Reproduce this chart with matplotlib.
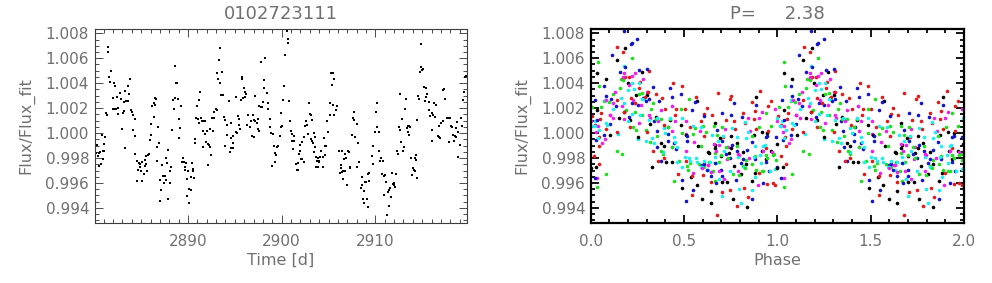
import matplotlib.pyplot as plt
import numpy as np
from matplotlib.ticker import MultipleLocator, FixedLocator

# light curve
star_id = '0102723111'
period = 2.38
t_zero = 2878.70

time = [
    2880.07, 2880.21, 2880.29, 2880.36, 2880.46, 2880.53, 2880.64, 2880.68, 2880.78, 2880.89,
    2880.93, 2881.00, 2881.07, 2881.18, 2881.21, 2881.32, 2881.42, 2881.49, 2881.57, 2881.71,
    2881.82, 2881.99, 2882.03, 2882.13, 2882.17, 2882.24, 2882.28, 2882.42, 2882.53, 2882.56,
    2882.70, 2882.85, 2882.92, 2883.02, 2883.13, 2883.17, 2883.24, 2883.31, 2883.38, 2883.56,
    2883.63, 2883.74, 2883.84, 2883.91, 2884.02, 2884.12, 2884.16, 2884.31, 2884.35, 2884.38,
    2884.52, 2884.59, 2884.70, 2884.73, 2884.84, 2884.91, 2885.02, 2885.05, 2885.09, 2885.27,
    2885.40, 2885.44, 2885.52, 2885.55, 2885.66, 2885.69, 2885.80, 2885.91, 2886.01, 2886.08,
    2886.16, 2886.33, 2886.37, 2886.44, 2886.51, 2886.58, 2886.69, 2886.73,
    # 2886.8 - 2893.5
    2886.83, 2886.90, 2887.01, 2887.05, 2887.15, 2887.26, 2887.37, 2887.44, 2887.51, 2887.62,
    2887.69, 2887.76, 2887.83, 2887.90, 2888.04, 2888.11, 2888.22, 2888.33, 2888.40, 2888.51,
    2888.61, 2888.65, 2888.75, 2888.83, 2888.90, 2889.00, 2889.07, 2889.15, 2889.25, 2889.32,
    2889.47, 2889.57, 2889.64, 2889.72, 2889.82, 2889.86, 2889.89, 2890.00, 2890.11, 2890.14,
    2890.28, 2890.32, 2890.39, 2890.50, 2890.57, 2890.68, 2890.75, 2890.78, 2890.89, 2891.00,
    2891.03, 2891.14, 2891.21, 2891.32, 2891.35, 2891.46, 2891.64, 2891.64, 2891.67, 2891.81,
    2891.81, 2891.92, 2891.99, 2892.10, 2892.17, 2892.24, 2892.31, 2892.35, 2892.49, 2892.60,
    2892.63, 2892.74, 2892.78, 2892.95, 2893.06, 2893.06, 2893.17, 2893.31, 2893.42, 2893.45,
    # 2893.5 - 2900.2
    2893.56, 2893.63, 2893.70, 2893.81, 2893.91, 2893.99, 2894.13, 2894.20, 2894.34, 2894.48,
    2894.56, 2894.56, 2894.63, 2894.77, 2894.77, 2894.84, 2895.09, 2895.16, 2895.23, 2895.37,
    2895.41, 2895.48, 2895.55, 2895.69, 2895.77, 2895.80, 2895.87, 2895.98, 2896.05, 2896.09,
    2896.19, 2896.30, 2896.44, 2896.62, 2896.76, 2896.80, 2896.90, 2897.05, 2897.08, 2897.15,
    2897.19, 2897.33, 2897.44, 2897.47, 2897.62, 2897.62, 2897.76, 2897.83, 2897.87, 2897.97,
    2898.11, 2898.15, 2898.26, 2898.40, 2898.51, 2898.54, 2898.72, 2898.75, 2898.90, 2898.97,
    2899.04, 2899.15, 2899.25, 2899.32, 2899.40, 2899.47, 2899.61, 2899.79, 2899.89, 2899.97,
    2900.04, 2900.18,
    # 2900.2 - 2906.9
    2900.29, 2900.39, 2900.55, 2900.64, 2900.71, 2900.82, 2900.93, 2900.96, 2901.10, 2901.10,
    2901.21, 2901.35, 2901.35, 2901.57, 2901.60, 2901.71, 2901.78, 2901.85, 2901.92, 2901.99,
    2902.06, 2902.17, 2902.21, 2902.35, 2902.35, 2902.53, 2902.56, 2902.71, 2902.85, 2902.92,
    2903.03, 2903.10, 2903.13, 2903.20, 2903.24, 2903.31, 2903.42, 2903.45, 2903.56, 2903.60,
    2903.67, 2903.70, 2903.77, 2903.84, 2903.91, 2903.95, 2904.02, 2904.09, 2904.20, 2904.38,
    2904.45, 2904.48, 2904.59, 2904.66, 2904.70, 2904.88, 2904.95, 2905.12, 2905.16, 2905.30,
    2905.37, 2905.44, 2905.52, 2905.55, 2905.62, 2905.77, 2905.91, 2906.09, 2906.19, 2906.30,
    2906.37, 2906.41, 2906.48, 2906.51, 2906.58, 2906.62, 2906.76, 2906.76, 2906.90,
    # 2907 - 2913.7
    2907.01, 2907.08, 2907.19, 2907.26, 2907.33, 2907.51, 2907.62, 2907.69, 2907.76, 2907.86,
    2908.01, 2908.04, 2908.15, 2908.22, 2908.29, 2908.43, 2908.54, 2908.61, 2908.68, 2908.79,
    2908.79, 2908.93, 2909.00, 2909.07, 2909.18, 2909.25, 2909.32, 2909.36, 2909.68, 2909.75,
    2909.75, 2909.97, 2910.07, 2910.14, 2910.21, 2910.36, 2910.43, 2910.50, 2910.57, 2910.75,
    2910.85, 2910.93, 2910.93, 2911.07, 2911.17, 2911.25, 2911.32, 2911.42, 2911.50, 2911.60,
    2911.64, 2911.78, 2911.89, 2911.96, 2911.99, 2912.10, 2912.21, 2912.35, 2912.42, 2912.56,
    2912.60, 2912.63, 2912.78, 2912.85, 2912.92, 2913.06, 2913.17, 2913.27, 2913.35, 2913.45,
    2913.49, 2913.59, 2913.63, 2913.70,
    # 2913.7 - end
    2913.77, 2913.91, 2913.99, 2914.13, 2914.20, 2914.27, 2914.34, 2914.38, 2914.45, 2914.48,
    2914.59, 2914.66, 2914.77, 2914.84, 2914.91, 2915.02, 2915.12, 2915.20, 2915.27, 2915.41,
    2915.44, 2915.55, 2915.69, 2915.73, 2915.84, 2916.01, 2916.08, 2916.08, 2916.19, 2916.23,
    2916.33, 2916.51, 2916.65, 2916.76, 2916.83, 2916.87, 2916.97, 2917.26, 2917.26, 2917.33,
    2917.44, 2917.62, 2917.79, 2917.86, 2917.94, 2918.08, 2918.18, 2918.33, 2918.40, 2918.47,
    2918.58, 2918.65, 2918.75, 2918.79, 2918.86, 2919.00, 2919.15, 2919.25, 2919.36, 2919.47,
    2919.57, 2919.68,
]

flux = [
    0.99899, 0.99837, 0.99907, 0.99818, 0.99837, 0.99738, 0.99845, 0.99752, 0.99984, 0.99858,
    0.99789, 0.99856, 0.99915, 0.99965, 1.00160, 1.00144, 1.00689, 1.00646, 1.00446, 1.00411,
    1.00497, 1.00283, 1.00190, 1.00398, 1.00195, 1.00379, 1.00192, 1.00286, 1.00155, 1.00200,
    1.00318, 1.00272, 1.00035, 1.00160, 1.00248, 1.00174, 1.00336, 0.99880, 1.00259, 1.00374,
    1.00254, 1.00310, 1.00433, 1.00184, 1.00166, 1.00147, 1.00024, 0.99979, 1.00117, 0.99832,
    0.99618, 0.99778, 0.99704, 0.99762, 0.99752, 0.99730, 0.99698, 0.99618, 0.99770, 0.99672,
    0.99738, 0.99781, 0.99752, 0.99816, 0.99693, 0.99824, 0.99832, 0.99941, 0.99987, 1.00072,
    1.00214, 1.00131, 1.00243, 1.00227, 1.00278, 1.00270, 0.99885, 0.99776,
    # 2886.8 - 2893.5
    1.00045, 0.99920, 0.99624, 0.99458, 0.99546, 0.99741, 0.99653, 0.99597, 0.99656, 0.99797,
    0.99626, 0.99760, 0.99867, 0.99471, 0.99597, 0.99693, 0.99725, 1.00027, 1.00264, 1.00195,
    1.00283, 1.00537, 1.00403, 1.00401, 1.00275, 0.99960, 1.00112, 1.00037, 1.00216, 0.99770,
    0.99797, 0.99765, 0.99730, 0.99704, 0.99757, 0.99632, 0.99498, 0.99698, 0.99551, 0.99437,
    0.99543, 0.99645, 0.99762, 0.99698, 0.99712, 0.99640, 0.99920, 0.99949, 1.00125, 1.00214,
    1.00117, 1.00267, 1.00080, 1.00326, 1.00123, 1.00093, 1.00016, 0.99885, 1.00093, 1.00093,
    0.99992, 0.99928, 1.00016, 0.99741, 0.99912, 0.99904, 1.00035, 0.99885, 0.99821, 1.00120,
    1.00016, 1.00123, 1.00166, 1.00195, 1.00184, 1.00478, 1.00430, 1.00582, 1.00686, 1.00401,
    # 2893.5 - 2900.2
    1.00307, 1.00486, 1.00307, 1.00128, 0.99899, 1.00104, 1.00064, 0.99987, 1.00254, 0.99850,
    1.00077, 0.99877, 0.99960, 0.99979, 0.99877, 0.99917, 1.00288, 1.00011, 1.00003, 1.00139,
    1.00067, 1.00112, 1.00032, 1.00264, 1.00433, 1.00446, 1.00280, 1.00363, 1.00286, 1.00331,
    1.00312, 1.00067, 1.00147, 1.00045, 1.00096, 0.99979, 1.00147, 0.99965, 1.00104, 1.00299,
    1.00096, 1.00077, 1.00117, 1.00029, 1.00019, 1.00214, 1.00206, 1.00571, 1.00211, 1.00246,
    1.00358, 1.00425, 1.00601, 1.00323, 1.00192, 1.00238, 1.00045, 1.00112, 1.00000, 0.99738,
    0.99992, 0.99896, 0.99768, 0.99840, 0.99824, 0.99891, 0.99893, 0.99979, 1.00045, 1.00160,
    1.00053, 1.00264,
    # 2900.2 - 2906.9
    1.00376, 1.00627, 1.00820, 1.00726, 1.00758, 1.00254, 1.00096, 1.00013, 0.99992, 0.99939,
    0.99869, 0.99979, 0.99939, 0.99754, 0.99701, 0.99760, 0.99701, 0.99829, 0.99907, 0.99853,
    0.99792, 0.99928, 0.99792, 0.99968, 0.99768, 1.00053, 1.00093, 1.00064, 0.99995, 1.00238,
    1.00152, 0.99949, 1.00144, 0.99939, 1.00104, 0.99923, 0.99848, 0.99997, 0.99971, 0.99888,
    0.99728, 0.99805, 0.99776, 0.99800, 0.99730, 0.99776, 0.99770, 0.99805, 0.99856, 0.99810,
    0.99725, 0.99957, 0.99899, 0.99821, 0.99896, 1.00093, 1.00011, 1.00142, 1.00240, 1.00481,
    1.00382, 1.00481, 1.00222, 1.00435, 1.00144, 1.00184, 1.00214, 0.99856, 0.99677, 0.99722,
    0.99746, 0.99688, 0.99858, 0.99693, 0.99632, 0.99789, 0.99829, 0.99693, 0.99797,
    # 2907 - 2913.7
    0.99581, 0.99853, 0.99850, 0.99720, 0.99725, 0.99984, 1.00120, 1.00171, 1.00104, 0.99965,
    1.00072, 0.99730, 0.99917, 0.99765, 0.99768, 0.99557, 0.99645, 0.99586, 0.99474, 0.99538,
    0.99442, 0.99610, 0.99605, 0.99474, 0.99669, 0.99410, 0.99613, 0.99677, 0.99818, 0.99899,
    0.99752, 1.00008, 1.00168, 1.00045, 1.00240, 1.00008, 0.99858, 0.99773, 0.99797, 0.99672,
    0.99773, 0.99658, 0.99506, 0.99664, 0.99608, 0.99346, 0.99527, 0.99543, 0.99418, 0.99557,
    0.99490, 0.99677, 0.99591, 0.99602, 0.99581, 0.99567, 0.99672, 0.99853, 0.99832, 1.00045,
    1.00024, 1.00312, 0.99925, 1.00117, 0.99858, 0.99891, 1.00192, 1.00272, 1.00037, 1.00056,
    1.00005, 1.00059, 0.99984, 1.00051,
    # 2913.7 - end
    0.99797, 0.99664, 0.99717, 0.99704, 0.99693, 0.99800, 0.99824, 0.99784, 0.99640, 1.00109,
    1.00294, 1.00275, 1.00491, 1.00531, 1.00718, 1.00507, 1.00513, 1.00366, 1.00254, 1.00363,
    1.00291, 1.00310, 1.00184, 1.00246, 1.00139, 1.00027, 1.00163, 0.99933, 1.00147, 1.00240,
    1.00131, 1.00227, 0.99979, 0.99971, 1.00056, 0.99957, 1.00080, 1.00096, 1.00347, 1.00352,
    1.00272, 1.00125, 1.00120, 0.99925, 1.00125, 1.00053, 1.00051, 0.99987, 0.99939, 0.99973,
    1.00040, 0.99965, 1.00088, 1.00011, 0.99805, 0.99907, 1.00125, 1.00053, 1.00264, 1.00331,
    1.00446, 1.00454,
]

cycle_colors = ['#000000', '#e41a1a', '#1ee01e', '#1414c8', '#19f0f0', '#f01ef0']

t = np.array(time)
f = np.array(flux)
phase = ((t - t_zero) / period) % 1.0
cycle = np.floor((t - t_zero) / period).astype(int)

txt_col = '#707070'
plt.rcParams['font.family'] = ['DejaVu Sans']

fig = plt.figure(figsize=(9.92, 2.83), dpi=100)
ax1 = fig.add_axes([0.0955, 0.2131, 0.3753, 0.6834])
ax2 = fig.add_axes([0.5955, 0.2131, 0.3763, 0.6834])


def style(ax, frame_col, frame_w):
    for s in ax.spines.values():
        s.set_color(frame_col)
        s.set_linewidth(frame_w)
    ax.tick_params(which='both', direction='in', top=True, right=True,
                   color=frame_col, width=frame_w * 0.8, labelcolor=txt_col,
                   labelsize=11)
    ax.tick_params(which='major', length=5.5)
    ax.tick_params(which='minor', length=3)
    ax.tick_params(axis='x', pad=8)
    ax.tick_params(axis='y', pad=4)
    ax.set_ylim(0.99282, 1.00832)
    ax.yaxis.set_major_locator(MultipleLocator(0.002))
    ax.yaxis.set_minor_locator(MultipleLocator(0.0005))
    ax.yaxis.set_major_formatter(plt.FormatStrFormatter('%.3f'))
    ax.set_ylabel('Flux/Flux_fit', color=txt_col, fontsize=11.5, labelpad=8)


# left: light curve
ax1.plot(t, f, 's', color='black', ms=1.9, mew=0)
style(ax1, '#3c3c3c', 0.8)
ax1.set_xlim(2880.04, 2919.79)
ax1.xaxis.set_major_locator(FixedLocator([2890, 2900, 2910]))
ax1.xaxis.set_minor_locator(MultipleLocator(1))
ax1.set_xlabel('Time [d]', color=txt_col, fontsize=11.5, labelpad=3)
ax1.set_title(star_id, color=txt_col, fontsize=13, pad=7.5)

# right: phase folded, coloured by cycle, shown twice
for k in np.unique(cycle):
    sel = cycle == k
    c = cycle_colors[k % len(cycle_colors)]
    ax2.plot(phase[sel], f[sel], 'o', color=c, ms=2.6, mew=0)
    ax2.plot(phase[sel] + 1.0, f[sel], 'o', color=c, ms=2.6, mew=0)
style(ax2, 'black', 1.6)
ax2.set_xlim(0.0, 2.0)
ax2.xaxis.set_major_locator(MultipleLocator(0.5))
ax2.xaxis.set_minor_locator(MultipleLocator(0.1))
ax2.xaxis.set_major_formatter(plt.FormatStrFormatter('%.1f'))
ax2.set_xlabel('Phase', color=txt_col, fontsize=11.5, labelpad=3)
ax2.set_title('P=     %.2f' % period, color=txt_col, fontsize=13, pad=7.5)

fig.savefig('out.png', dpi=100)
